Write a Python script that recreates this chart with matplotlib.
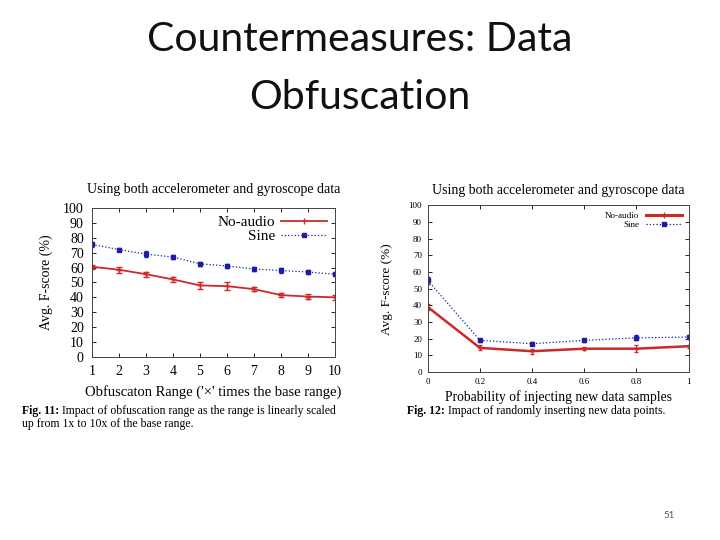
import matplotlib.pyplot as plt
from matplotlib.lines import Line2D

# data
range_x = [1, 2, 3, 4, 5, 6, 7, 8, 9, 10]
range_noaudio = [60.5, 58.5, 55.5, 52, 48, 47.5, 45.5, 41.5, 40.5, 40]
range_noaudio_err = [1.5, 2, 1.8, 1.5, 2.5, 2.5, 1.5, 1.2, 1.8, 1.5]
range_sine = [75.5, 72, 69, 67, 62.5, 61, 59, 58, 57, 55.5]
range_sine_err = [1.5, 1, 2, 1.5, 1.5, 1.5, 1.5, 1.5, 1.5, 1.2]

prob_x = [0, 0.2, 0.4, 0.6, 0.8, 1.0]
prob_labels = ['0', '0.2', '0.4', '0.6', '0.8', '1']
prob_noaudio = [39, 14.5, 12.5, 14, 14, 15.5]
prob_noaudio_err = [2, 1.5, 1.5, 1, 2, 1]
prob_sine = [55, 19, 17, 19, 20.5, 21]
prob_sine_err = [2, 1, 1, 1, 1.5, 1]

RED = '#cc2a2a'
BLUE = '#1c1ca8'
serif = ['Liberation Serif', 'DejaVu Serif']
sans = ['Lato', 'DejaVu Sans']
CAP = 8.5

fig = plt.figure(figsize=(7.2, 5.4), dpi=100)
fig.text(0.5, 0.926, 'Countermeasures: Data', ha='center', va='center',
         fontsize=29.5, family=sans, fontweight='normal', color='#111111')
fig.text(0.5, 0.82, 'Obfuscation', ha='center', va='center',
         fontsize=29.5, family=sans, fontweight='normal', color='#111111')
fig.text(0.93, 0.046, '51', ha='center', va='center', fontsize=7,
         color='#555555', family=sans)


def style_axes(ax, tick_size, pad):
    ax.tick_params(direction='in', top=True, right=True, labelsize=tick_size,
                   length=3, width=0.6, pad=pad)
    for lab in ax.get_xticklabels() + ax.get_yticklabels():
        lab.set_family(serif)
    for sp in ax.spines.values():
        sp.set_linewidth(0.7)
        sp.set_color('#444444')


def caption(x, y, num, rest):
    t = fig.text(x, y, 'Fig. %d:' % num, fontsize=CAP, family=serif,
                 fontweight='bold', va='center')
    return plt.annotate(' ' + rest, xy=(1, 0.5), xycoords=t, va='center',
                        fontsize=CAP, family=serif, annotation_clip=False)


def legend_handles(red_lw):
    return [Line2D([], [], color=RED, lw=red_lw, marker='|', ms=4,
                   label='No-audio'),
            Line2D([], [], color=BLUE, lw=0.9, ls=':', marker='s', ms=2.5,
                   label='Sine')]


# left panel
ax1 = fig.add_axes([0.128, 0.339, 0.337, 0.276])
ax1.errorbar(range_x, range_noaudio, yerr=range_noaudio_err, color=RED, lw=1.3,
             marker='+', ms=4, capsize=2, elinewidth=1)
ax1.errorbar(range_x, range_sine, yerr=range_sine_err, color=BLUE, lw=0.9,
             ls=':', marker='s', ms=2.5, capsize=1.5, elinewidth=0.6)
ax1.set_xlim(1, 10)
ax1.set_ylim(0, 100)
ax1.set_xticks(range_x)
ax1.set_yticks(range(0, 101, 10))
style_axes(ax1, 10, 6)
ax1.set_title('Using both accelerometer and gyroscope data', fontsize=10,
              family=serif, pad=11)
ax1.set_xlabel("Obfuscaton Range ('×' times the base range)", fontsize=10.5,
               family=serif, labelpad=5)
ax1.set_ylabel('Avg. F-score (%)', fontsize=10, family=serif, labelpad=7)
ax1.legend(handles=legend_handles(1.3), loc='upper right', markerfirst=False,
           frameon=False, prop={'family': serif, 'size': 11}, handlelength=3,
           borderaxespad=0.1, labelspacing=0.0, handletextpad=0.4)

caption(0.031, 0.239, 11,
        'Impact of obfuscation range as the range is linearly scaled')
fig.text(0.031, 0.215, 'up from 1x to 10x of the base range.',
         fontsize=CAP, family=serif, va='center')

# right panel
ax2 = fig.add_axes([0.594, 0.311, 0.3625, 0.309])
ax2.errorbar(prob_x, prob_noaudio, yerr=prob_noaudio_err, color=RED, lw=1.8,
             marker='+', ms=3, capsize=1.5, elinewidth=0.8)
ax2.errorbar(prob_x, prob_sine, yerr=prob_sine_err, color=BLUE, lw=0.9,
             ls=':', marker='s', ms=2.5, capsize=1.5, elinewidth=0.6)
ax2.set_xlim(0, 1)
ax2.set_ylim(0, 100)
ax2.set_xticks(prob_x, prob_labels)
ax2.set_yticks(range(0, 101, 10))
style_axes(ax2, 6.5, 4)
ax2.set_title('Using both accelerometer and gyroscope data', fontsize=9.9,
              family=serif, pad=8)
ax2.set_xlabel('Probability of injecting new data samples', fontsize=9.8,
               family=serif, labelpad=3)
ax2.set_ylabel('Avg. F-score (%)', fontsize=9.5, family=serif, labelpad=11)
ax2.legend(handles=legend_handles(2.2), loc='upper right', markerfirst=False,
           frameon=False, prop={'family': serif, 'size': 6.5}, handlelength=4,
           borderaxespad=0.3, labelspacing=0.1)

caption(0.565, 0.239, 12, 'Impact of randomly inserting new data points.')

fig.savefig('out.png', dpi=100)
